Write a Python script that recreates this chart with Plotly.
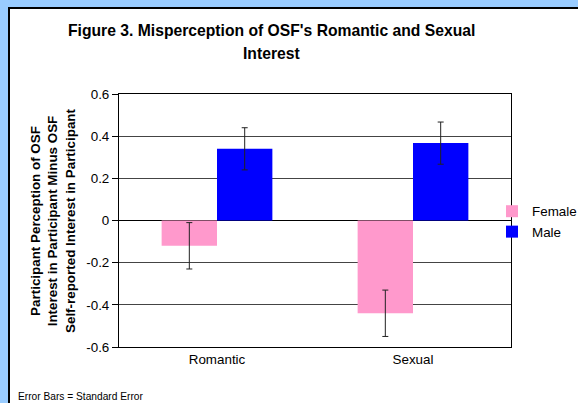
import plotly.graph_objects as go

categories = ["Romantic", "Sexual"]
female_values = [-0.12, -0.44]
female_err = [0.11, 0.11]
male_values = [0.34, 0.367]
male_err = [0.10, 0.10]
y_ticks = [-0.6, -0.4, -0.2, 0, 0.2, 0.4, 0.6]
y_tick_labels = ["-0.6", "-0.4", "-0.2", "0", "0.2", "0.4", "0.6"]

W, H = 578, 403
FONT = "Arial, Liberation Sans, sans-serif"

def px(x):
    return x / W

def py(y):
    return 1 - y / H

fig = go.Figure()
fig.add_trace(go.Bar(
    name="Female", x=categories, y=female_values,
    marker=dict(color="#FF99CC", line=dict(width=0)),
    error_y=dict(type="data", array=female_err, color="#222222", thickness=1, width=3),
))
fig.add_trace(go.Bar(
    name="Male", x=categories, y=male_values,
    marker=dict(color="#0000FF", line=dict(width=0)),
    error_y=dict(type="data", array=male_err, color="#222222", thickness=1, width=3),
))

fig.update_layout(
    width=W, height=H,
    margin=dict(l=0, r=0, t=0, b=0, autoexpand=False),
    paper_bgcolor="#99CCFF",
    plot_bgcolor="white",
    barmode="group",
    bargap=0.435,
    bargroupgap=0,
    font=dict(family=FONT, size=13.4, color="black"),
    showlegend=True,
    legend=dict(x=px(492), y=py(196), xanchor="left", yanchor="top",
                bgcolor="rgba(0,0,0,0)", font=dict(size=13.4),
                itemwidth=30, tracegroupgap=0),
    xaxis=dict(domain=[px(119), px(511)], showline=True, linecolor="black", linewidth=1,
               mirror=True, ticks="", showgrid=False, tickfont=dict(size=13.4)),
    yaxis=dict(domain=[py(347), py(94)], range=[-0.6, 0.6], tickvals=y_ticks,
               ticktext=y_tick_labels, showline=True, linecolor="black", linewidth=1,
               mirror=True, ticks="outside", ticklen=6, tickcolor="black",
               showgrid=True, gridcolor="#444444", gridwidth=1,
               zeroline=True, zerolinecolor="black", zerolinewidth=1,
               tickfont=dict(size=13.4)),
    shapes=[
        dict(type="rect", xref="paper", yref="paper", x0=px(9), x1=1.2, y0=-0.2, y1=py(8),
             fillcolor="white", line=dict(color="black", width=2), layer="below"),
    ],
    annotations=[
        dict(text="<b>Figure 3. Misperception of OSF's Romantic and Sexual</b>",
             x=px(271), y=py(31), xref="paper", yref="paper", showarrow=False,
             xanchor="center", yanchor="middle", font=dict(size=15.7)),
        dict(text="<b>Interest</b>",
             x=px(271), y=py(53), xref="paper", yref="paper", showarrow=False,
             xanchor="center", yanchor="middle", font=dict(size=15.7)),
        dict(text="<b>Participant Perception of OSF<br>Interest in Participant Minus OSF<br>Self-reported Interest in Participant</b>",
             x=px(53), y=py(221), xref="paper", yref="paper", showarrow=False,
             xanchor="center", yanchor="middle", textangle=-90, font=dict(size=13.4)),
        dict(text="Error Bars = Standard Error",
             x=px(16), y=py(396), xref="paper", yref="paper", showarrow=False,
             xanchor="left", yanchor="middle", font=dict(size=10.2)),
    ],
)

fig.write_html("out.html", config={"displayModeBar": False},
               post_script="document.body.style.margin='0';document.body.style.padding='0';")
